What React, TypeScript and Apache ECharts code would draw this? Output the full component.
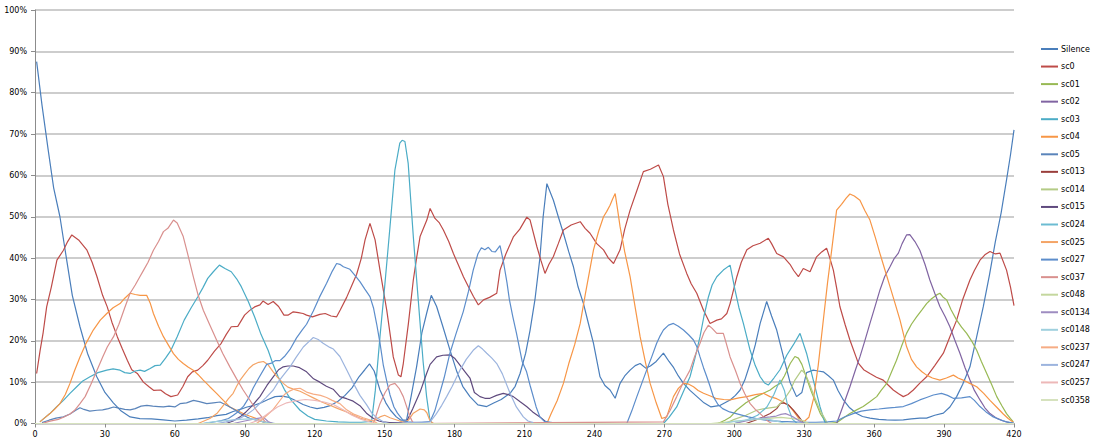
import React, { useEffect, useRef } from "react";
import * as echarts from "echarts";

const xTicks = { min: 0, max: 420, interval: 30 };
const yTicks = { min: 0, max: 100, interval: 10 };

const seriesNames = [
  "Silence", "sc0", "sc01", "sc02", "sc03", "sc04", "sc05", "sc013", "sc014", "sc015",
  "sc024", "sc025", "sc027", "sc037", "sc048", "sc0134", "sc0148", "sc0237", "sc0247", "sc0257", "sc0358",
];

const seriesColors = [
  "#4A7EBB", "#BE4B48", "#98B954", "#8064A2", "#4BACC6", "#F79646", "#5A84BA", "#9A3E3B", "#B4CB86", "#5F4A7E",
  "#6CBCD2", "#F4A466", "#5C8DCB", "#D9908E", "#C4D79E", "#9E8CC0", "#9FD0DE", "#F6AC84", "#9CB4DE", "#EDB8B8", "#D6E2BE",
];

const silence = [[0.7,87.5],[3,77],[5.7,66],[8,57],[10.7,50],[13.6,39.5],[16,31],[19.3,23.4],[22.5,17],[26.5,11.3],[30,7.5],[33.6,5],[37,3],[40.8,1.6],[45,1.2],[50,1.1],[55,0.9],[60,0.6],[65,0.8],[70,1.1],[74,1.4],[78,1.9],[82,2.2],[85,2.9],[88,3.4],[91,4],[94,4.4],[97,5],[100,5.8],[103,6.5],[106,6.6],[109,6.3],[112,5.5],[115,4.6],[118,4],[121,3.6],[124,3.9],[127,4.4],[130,5.4],[133,6.8],[136,8.6],[139,11.3],[141.5,13],[143.5,14.4],[145.5,12.7],[148,8.1],[150.5,5],[152.5,3.2],[155,1.6],[157,0.8],[159.4,0.8],[161.5,7],[163.7,13.7],[166,22],[168,26.6],[170,31],[172.3,28.3],[175,23.4],[178,17.8],[181,12.5],[183.5,9],[186.6,6.5],[190,4.5],[193.8,4.1],[197,5],[200,5.8],[203.8,7.3],[206,9],[208.1,12.1],[210.5,17],[212.4,22.6],[214.5,30],[216.6,40],[218,50],[219.6,58],[222.4,54],[224.5,50],[226.7,46],[229,41.5],[231,37.9],[233,33],[235.3,29],[237.5,24],[239.6,19.4],[242.4,11.3],[244.5,9.2],[246.7,8.1],[248.9,6.1],[251,9.7],[253,11.5],[255.3,12.9],[257.5,14],[259.6,14.5],[262,13.4],[264,13.9],[266.5,15],[269.6,17],[272,15],[274,13.5],[276,11.5],[278.2,9.7],[281,8],[284,6.5],[287,5],[290,4],[294,4.4],[298.2,5.7],[300.5,6.8],[302.5,8.1],[304.5,10.5],[306.8,14.5],[309,19],[311.1,24.2],[313.9,29.5],[316,26],[318.2,22.6],[321.1,16.1],[323.9,10],[326.7,6.5],[329,7.5],[331,12.3],[333.9,12.9],[336,12.7],[338.2,12.5],[340.5,11.5],[342.5,10.5],[344.5,8],[346.8,5.7],[349.5,3.8],[352.5,2.4],[355,1.7],[358.2,1.3],[362,1],[365.3,0.9],[369,0.8],[372.5,0.9],[376,1.1],[379.6,1.3],[382.5,1.3],[386,2],[389.7,2.5],[392.5,4],[395.4,6.5],[398,9.5],[401.1,13.7],[404,21],[406.8,28.2],[409.5,36],[412,44],[414.5,51],[416.8,58.9],[418.5,65],[420,71]];

const sc0 = [[0.7,12.1],[2.2,17.7],[3.5,22],[5,28.2],[7,33],[9.4,39.5],[12.2,41.9],[14,44],[15.8,45.6],[18.7,44.4],[22.3,41.9],[24.5,39],[26.6,35.5],[29,31],[31,28.2],[33,24.5],[35.3,21],[37.5,18],[39.6,15.3],[41.5,13],[43.9,12.1],[46.5,10],[48.9,8.9],[51,8],[53.9,8.1],[56,7.2],[58.3,6.5],[61.2,6.9],[63.5,9],[65.5,11.3],[67.5,12.5],[69.8,12.9],[72,14],[74.1,15.3],[77,17.5],[79.9,19.4],[82,21.5],[84.2,23.4],[87,23.5],[89.9,26.2],[92,27.3],[94.2,28.2],[96.5,28.7],[97.8,29.6],[100,28.8],[102.2,29.5],[104.5,28.3],[106.8,26.2],[108.5,26.2],[110.8,27],[113,26.8],[115,26.6],[116.5,26.2],[119,25.8],[122.2,26.4],[124.5,26.6],[127,26],[129.4,25.8],[131,27.5],[133.7,30.5],[136,33.5],[138,36.1],[140,40],[141.6,44.4],[143.7,48.4],[145.9,44.4],[148,37.1],[150.9,27.4],[152.5,21],[153.7,16.1],[155.9,11.7],[157,11.3],[158,14.5],[160.2,24.2],[162.3,34.7],[163.7,40],[165.2,45.2],[168.1,49.2],[169.5,52],[171.6,49.6],[173.5,48.5],[175.2,46.8],[177.5,44],[179.5,41.1],[181.5,38.5],[183.8,35.5],[186,33],[188.1,30.7],[190.2,28.7],[192.4,29.9],[195,30.5],[198.1,31.5],[199.5,37.1],[202,41],[205.3,45.2],[208,47],[211,49.9],[212.4,49.2],[215.3,42.8],[217,39.5],[218.8,36.3],[220.5,38.5],[222.4,40.4],[224.5,43.5],[226.7,46.8],[230,48],[233.9,48.8],[236,47.2],[238.1,46],[241,43.5],[243.9,42],[246,40],[248.2,38.7],[251,42],[253,47],[255.3,51.6],[258,56],[261,60.9],[264,61.5],[267.5,62.5],[269.6,59.7],[271.5,53],[273.9,46.8],[276.5,41],[279.6,36.3],[281.5,33.8],[283.9,31.5],[286.8,27.4],[289.6,24.2],[292.5,25],[294.5,25.3],[296.8,26.6],[298.2,29],[301.1,35.5],[303,39],[305.4,42],[308,43],[311.1,43.6],[314.6,44.8],[316,43.5],[318.2,41.1],[321.1,40.3],[323.9,38.5],[325.5,37],[327.5,35.5],[329.6,37.5],[332.5,36.7],[335.3,40.3],[337.5,41.5],[339.6,42.4],[341,40],[342.5,37.1],[344,32.5],[345.3,28.3],[347.5,24],[349.6,20.2],[353.2,14.6],[355.5,13],[358.2,12.1],[361,11.2],[363.9,10.5],[366,9.3],[368.2,8.1],[370.5,7.2],[372.5,6.5],[374.5,7],[376.8,8.1],[379.5,9.7],[382.5,11.3],[386,14],[389.7,17],[392.5,21],[395.4,25],[398,30],[401.1,34.7],[403,37],[405.4,39.5],[407.5,40.8],[409.7,41.6],[412,41],[414,41.2],[416.8,37.1],[418.5,33],[420,28.5]];

const sc01 = [[293,0],[296,0.8],[298.2,1.5],[301,3.2],[305,5],[309.6,6.5],[312.5,7.3],[315.4,8.1],[317.5,9],[319.7,9.7],[321.5,11.5],[324,14.5],[326,16.2],[327.5,15.8],[329,14.3],[331,11],[333,7.8],[335,5],[337,2.3],[339.6,0],[343.9,0.2],[346.5,1.2],[349.6,2.4],[352.5,3.3],[355.3,4.1],[358,5.2],[361.1,6.5],[363,8],[365.4,9.7],[367.5,12.5],[369.6,15.3],[371.7,18.6],[373.9,21.8],[376,24],[378.2,25.8],[380.5,27.5],[382.5,29],[384.5,30.1],[386.8,31.1],[388.2,31.5],[389.5,30.6],[391.1,29.9],[393,27.5],[395.4,25],[397.5,23.3],[399.7,21.8],[402,19.8],[404,17.7],[406,15],[408.3,12.1],[410.5,9.3],[412.6,6.5],[414.8,4.3],[416.8,2.4],[418.5,1.2],[419.7,0.4]];

const sc02 = [[343.9,0],[346.5,4],[349.6,8.9],[352,13],[353.9,16.1],[356,20],[358.2,24.2],[360.5,28.5],[362.5,32.3],[364.5,35.5],[366.8,37.9],[368.5,39.8],[370.4,41.2],[372,43.5],[373.9,45.6],[375.3,45.7],[377.5,44],[379.6,41.9],[381.8,38.5],[383.9,34.7],[386,31.5],[388.2,28.3],[390.5,25.8],[392.5,23.4],[394.5,20.3],[396.8,17],[399,13.5],[401.1,10.5],[403,8],[405.4,5.7],[407.5,3.8],[409.7,2.4],[412.5,1.3],[415.4,0.6],[418,0.2],[420,0]];

const sc03 = [[2.1,0.4],[4,1.3],[6.4,2.4],[9,3.9],[12.2,5.6],[15,7.3],[17.9,8.9],[20.5,10.3],[23.6,11.3],[27,12.3],[30.8,12.9],[33.5,13.2],[36.5,12.9],[38.5,12.3],[40.8,12.1],[43,12.7],[45.1,12.9],[47,12.6],[49.4,13.3],[51.5,14],[53.7,14.1],[56,15.8],[58.3,17.7],[61,21],[64,25],[67,28],[69.8,30.6],[72,32.8],[74.1,35.1],[76.5,36.7],[79.1,38.3],[81.5,37.5],[84.2,36.7],[86.5,35],[88.5,33.1],[91.5,29.5],[94.2,25.8],[97,21.5],[100,17.7],[102,14.5],[104.3,11.3],[107,8.2],[110,5.6],[113.7,3.2],[117,1.8],[120,1],[125,0.6],[130,0.4],[135,0.3],[140,0.3],[144.4,0.5],[146,8],[148,21],[150,33],[152.3,47.6],[154.4,61.3],[156.5,67.8],[157.5,68.5],[158.7,68.2],[160.1,62.9],[161.2,54],[162.3,45.2],[163.7,35],[165.1,25],[166.5,15],[168,6.5],[169.4,0.9],[170.5,0],[220,0],[269.6,0],[272,1.5],[275.3,4],[278,7.5],[281,11.3],[283,15.5],[285.3,21],[287,26],[288.9,30.6],[290.5,33.5],[292.5,35.5],[295.3,37.1],[298.2,38.3],[300.3,32.3],[302,28],[303.9,24.2],[306.8,17.7],[309,14],[311.1,11.3],[313,9.8],[314.6,9.3],[317,11],[319.6,13],[322.5,16.5],[325.3,19],[328.2,21.8],[331,17],[333.9,10.5],[336.8,4],[338.9,0.2]];

const sc04 = [[2.1,0.4],[4,1.3],[6.4,2.4],[8.5,3.5],[10.7,4.8],[13,7],[15,9.7],[17,12.8],[19.3,16.1],[22,19.5],[25,22.6],[28,25],[30.8,26.6],[33.5,28],[36.5,29],[38.5,30.3],[40.8,31.5],[43,31.2],[45.1,31],[47.9,31],[49.5,29],[50.8,26.6],[53,23.5],[55.1,21],[57.3,18.9],[59.4,16.9],[61.5,15.5],[63.6,14.5],[65.8,13.6],[67.9,12.9],[70,11.8],[72.2,10.5],[75,8.9],[77.9,7.3],[80.8,5.6],[83.6,4],[86.5,3.2],[89.3,2.4],[92,1.8],[95,1.2],[97.9,0.4],[99,0],[219.6,0],[221.5,2.5],[224,5.5],[226.7,9.7],[229,14.5],[231.5,19],[233.9,24.2],[236,31],[237.8,36.5],[239.6,42],[241.8,46.5],[243.9,50],[245.3,51.3],[246.7,52.8],[247.8,54.3],[248.9,55.6],[250,51.5],[251,47.6],[253,41.5],[255.3,35.5],[257.5,28],[259.6,21],[261.8,15],[263.9,9.7],[266.5,5],[268.9,1.2],[271,1.6],[273.9,6.5],[276,8.5],[278.2,9.7],[280.5,9.5],[282.5,8.9],[284.5,8],[286.8,7.3],[290,6.6],[292.5,6],[295.5,5.8],[298.2,5.7],[302,6.2],[305.4,6.5],[309,7],[312.5,7.3],[315.3,6.5],[318.2,6],[321,5.2],[323.9,4.1],[326,2.5],[328.2,0.8],[330,0.5],[332,1.5],[334,6],[336,14],[338,24],[340,34],[341.8,42],[343.9,51.6],[346,53],[348,54.5],[349.6,55.5],[351.5,55],[353.9,54],[356,51.5],[358.2,49.2],[360.5,45],[362.5,41.1],[364.7,37],[366.8,33.1],[369,29],[371.1,25],[373.9,18.6],[376,15.5],[378.2,13.7],[380.5,12.5],[382.5,11.7],[385,11],[388.2,10.5],[391,11],[394,11.7],[396,11],[398.2,10.5],[401,9.7],[404,8.9],[407,7.3],[409.7,5.6],[412.5,4],[415.4,2.3],[417.5,1.2],[419.7,0.3]];

const sc05 = [[3,0.2],[6,0.8],[9,1.3],[12.2,1.6],[15,2.3],[17.5,3.2],[19.3,3.8],[21,3.4],[23.5,3],[26.6,3.2],[29,3.3],[31.5,3.6],[33.7,4],[36,3.7],[38.5,3.4],[40.8,3.3],[43,3.6],[45.5,4.2],[48,4.4],[50.5,4.2],[53,4.1],[55.1,4],[57.5,4.2],[60,4],[62.2,4.8],[65,5],[68,5.6],[70.5,5.3],[73.7,4.8],[76.5,5],[79.4,5.2],[81.5,4.6],[83.6,4],[86,3.2],[88,2.4],[90,1.8],[92.3,1.2],[95,0.8],[98,0.4],[100,0.2],[103,0]];

const sc013 = [[305,0],[309,0.8],[312,1.5],[315.4,2.4],[318.2,3.6],[319.7,4.8],[321,5],[323,4.6],[325.3,3.3],[327.5,1.8],[329.6,0.2]];

const sc014 = [[296,0],[300,1],[305,2],[309.6,3.2],[313,3.6],[318.2,4],[321,5.5],[324,8],[326,10.5],[328.9,12.9],[330.5,12],[332,10],[334,7],[336.5,3.5],[339,1],[340,0]];

const sc015 = [[82,0],[85,0.6],[88,1.6],[90.5,2.8],[93,4.2],[96.5,6.5],[99.5,9.2],[102.2,11.3],[104.5,13],[106.5,13.7],[108.5,13.9],[110.8,13.9],[113.5,13.5],[116.5,12.5],[119.5,10.8],[122.2,10],[125,9],[127.9,8.3],[130.8,6.5],[133.7,6],[136.5,5.4],[139.4,4.3],[142.2,2.5],[145.2,1.2],[147.5,0.6],[149.4,0.4],[152,0.2],[156,0.2],[159.4,0.4],[162,3.5],[165.2,7.6],[168,12.1],[169.5,14.3],[172.3,16.1],[175,16.5],[178,16.6],[180,15.8],[182.3,14.1],[184.5,12.5],[186.6,11],[188.5,7.5],[190.9,6.5],[193,6.1],[195.2,6.1],[198,6.8],[200.9,7.3],[203,7],[205.2,6.5],[208,5.3],[210.9,4.1],[213.5,2.8],[216.6,1.6],[219,0.5],[221,0]];

const sc024 = [[300,0],[305,0.8],[310,2],[314,4],[317,7],[319.6,10.5],[321.5,8],[323,4],[325,1],[327,0]];

const sc025 = [[70,0],[72,0.5],[75,1.2],[78,2.4],[81,4.5],[83,6],[85,7.3],[86.5,9],[88,10.5],[90,12],[91.8,13.3],[93.6,14.2],[96,14.8],[98,15],[100,14.2],[102.2,12.5],[104,11.2],[106.5,9.7],[108.5,8.8],[110.8,8.3],[113.7,7.8],[116.5,7],[119.4,6.2],[123,5.2],[126.5,4.4],[130,3.6],[133.7,2.8],[137,1.9],[139.4,1.3],[142,0.9],[145.2,0.6],[148,1.6],[150,2],[152.3,1.4],[156.5,0.6],[158,0.3],[160.2,0.8],[162.3,2.5],[165.2,3.5],[167,3.3],[168.1,2.6],[169.5,0.6],[171,0]];

const sc027 = [[72,0],[76,0.3],[80,0.7],[83,1.2],[85.1,2],[87,2.8],[89.5,4.2],[91.5,6],[93.6,8.6],[96,11],[99.4,14.3],[101.5,14.6],[103,15.2],[105.1,15.2],[107,16.2],[109.4,17.9],[112.2,20.7],[114.5,22.5],[116.5,24],[119.4,27.2],[122,30.5],[125.1,33.9],[127.5,36.8],[129.4,38.7],[130.8,38.5],[132.3,37.9],[135.1,37.3],[137,36],[139.4,34.3],[141.5,32.5],[143.7,30.7],[145.2,28],[146.6,24],[148,19.5],[149.4,14.2],[151,10],[152.3,6.9],[154,4],[155.5,2.5],[158,0.7],[160,0.4],[163,0.3],[166,0.3],[169.5,0.5],[171.5,3],[173,6],[175.5,11],[178,17],[180.5,21.5],[183.7,27],[186,32],[188,37.1],[190,41],[191.5,42.5],[193,42],[194.5,42.6],[196,41.6],[197.5,41.5],[199.5,43],[201,39],[202.5,34],[203.5,30],[205,25.8],[206.5,22],[209,15],[210.9,12.5],[212.5,9],[215,4],[216.6,1.6],[218.5,0.5],[222,0.2],[250,0],[253.9,0],[256,3],[258.2,6.5],[260.5,10],[262.4,12.9],[264.5,16],[266.7,19.4],[268,21],[269.6,22.6],[271.8,23.8],[273.9,24.2],[276,23.5],[278.2,22.6],[280.5,21.4],[282.5,20.2],[284,18.5],[285.3,16.1],[286.8,13.5],[288.2,11.3],[289.6,9],[291,6.5],[293,4.6],[295,3.6],[298,2.8],[302,2.2],[306,1.6],[310,1.1],[315,0.7],[320,0.5],[325,0.4],[330,0.3],[335,0.3],[340,0.4],[343.9,0.6],[347,1.5],[351,2.4],[354.5,3],[358.2,3.3],[362,3.5],[365.4,3.7],[369,3.9],[372.5,4.1],[376,4.8],[379.6,5.7],[382.5,6.3],[385.4,6.9],[388.9,7.3],[391.5,6.8],[393.9,6.1],[397.5,6.2],[401.1,6.5],[403,5.6],[405.4,4.1],[408,2.8],[411.1,1.6],[414,0.9],[416.8,0.4],[420,0.1]];

const sc037 = [[3,0],[6,0.5],[10,1],[12.2,1.5],[15,2.3],[17,3.2],[19.3,4.8],[21.5,6.5],[24,9.5],[26.6,12.9],[29,16],[31,18.5],[33.7,21],[36,24],[38.5,28],[40.8,31.5],[43,33.5],[44.5,35],[46.6,37.1],[48.5,39],[50.8,41.9],[53,44],[55.1,46.4],[57,47.2],[59.4,49.2],[61,48.5],[63.6,45.2],[65.5,41],[67.9,35.5],[70,31],[72.2,27.4],[75,23.8],[77.9,20.2],[80.5,17],[83.6,13.7],[86.5,10.8],[89.3,8.1],[92,5.8],[95,3.2],[97,1.8],[98.7,0.4],[100,0],[145.2,0],[148,4.8],[150.2,7.5],[152.3,9.3],[154.4,9.7],[156.2,8.5],[158,6.5],[160.9,1.6],[162.3,0],[269.6,0.4],[272.5,3.2],[275.3,6.5],[278,9.8],[281,12.9],[283,16.2],[285.3,19.4],[287,22],[288.9,23.8],[290.5,23],[292.5,21.8],[295.3,21.8],[296.5,19.5],[298.2,16.1],[300.5,12.8],[302.5,9.7],[304.5,7.2],[306.8,4.8],[309,3.4],[311.1,2.4],[313.9,0.8],[316,0]];

const sc048 = [[290,0],[300,0.5],[310,1],[320,1.5],[328,1],[332,0]];

const sc0134 = [[85,0],[90,0.6],[95,1.2],[98,1.5],[100,0.5],[102,0],[300,0],[305,0.6],[310,1.2],[315.4,1.6],[318,1.8],[320,2.2],[322,2.4],[325,1.7],[328,0.6],[330,0]];

const sc0148 = [[72,0],[76,0.4],[80,0.6],[84,0.8],[88,1],[92,1.1],[95,0.9],[98,0.4],[101,0],[295,0],[300,0.5],[305,0.8],[310,1.2],[315,1],[320,0.3],[323,0]];

const sc0237 = [[95,0],[97,0.8],[99.5,2],[102.2,3.4],[105,5.5],[107,7],[109.4,7.9],[111.5,8.4],[113.7,8.5],[116.5,7.6],[119.4,7.1],[122.5,6.8],[125.1,6.3],[127.5,5.6],[130.8,4.8],[133.7,3.3],[137,2.2],[140.8,1.4],[145.2,0.6],[147,0]];

const sc0247 = [[78,0],[82,0.4],[85.1,0.8],[88,1.3],[90.8,2.1],[93.6,3.3],[96,4.6],[99,6.2],[102.2,8.1],[104.5,10.2],[107,12],[109.4,13.7],[112,16],[115.1,18.5],[117.5,19.8],[119.4,20.8],[121.5,20.3],[123.6,19.4],[126.5,18.4],[128,18],[130.8,16.2],[133.7,13],[136.6,9.7],[139.4,6.8],[142.3,4.5],[144.5,2.5],[146.6,1.4],[149.4,0.4],[152,0],[169.5,0.4],[172,2.2],[174.5,4.4],[176.6,6.5],[179,9],[182.3,12.9],[185,15.5],[188,17.7],[190.2,18.8],[192,18],[193.8,17],[196,15.8],[198.1,14.5],[200.5,12],[203.8,7.3],[206.5,4],[209.5,1.6],[211.5,0.6],[213.8,0.2]];

const sc0257 = [[92,0],[96,0.8],[100,2.4],[104,4],[108,5],[112,5.5],[116,5.8],[120,5.6],[124,5.2],[128,4.6],[132,3.4],[136,2],[140,1],[144,0.3],[146,0]];

const sc0358 = [[0,0],[105,0],[210,0],[315,0],[420,0]];

const seriesData = [
  silence, sc0, sc01, sc02, sc03, sc04, sc05, sc013, sc014, sc015,
  sc024, sc025, sc027, sc037, sc048, sc0134, sc0148, sc0237, sc0247, sc0257, sc0358,
];

const FONT = "DejaVu Sans";

export default function App() {
  const ref = useRef<HTMLDivElement>(null);
  useEffect(() => {
    if (!ref.current) return;
    const chart = echarts.init(ref.current, undefined, { renderer: "svg" });
    chart.setOption({
      animation: false,
      backgroundColor: "#ffffff",
      grid: { left: 35, right: 80, top: 10, bottom: 20.5, containLabel: false },
      legend: {
        orient: "vertical",
        left: 1036,
        top: 38,
        icon: "rect",
        itemWidth: 17,
        itemHeight: 2,
        itemGap: 5.55,
        selectedMode: false,
        data: seriesNames,
        textStyle: { fontFamily: FONT, fontSize: 8, color: "#000", lineHeight: 12, padding: [0, 0, 0, -2] },
      },
      xAxis: {
        type: "value",
        min: xTicks.min,
        max: xTicks.max,
        interval: xTicks.interval,
        axisLine: { show: true, lineStyle: { color: "#8C8C8C", width: 1 } },
        axisTick: { show: true, length: 4, lineStyle: { color: "#8C8C8C" } },
        axisLabel: { fontFamily: FONT, fontSize: 8, color: "#000", margin: 7 },
        splitLine: { show: false },
      },
      yAxis: {
        type: "value",
        min: yTicks.min,
        max: yTicks.max,
        interval: yTicks.interval,
        axisLine: { show: true, lineStyle: { color: "#8C8C8C", width: 1 } },
        axisTick: { show: true, length: 4, lineStyle: { color: "#8C8C8C" } },
        axisLabel: { fontFamily: FONT, fontSize: 8, color: "#000", margin: 8, formatter: "{value}%" },
        splitLine: { show: true, lineStyle: { color: "#BDBDBD", width: 1.5 } },
      },
      series: seriesNames.map((name, i) => ({
        name,
        type: "line",
        data: seriesData[i],
        showSymbol: false,
        symbol: "none",
        color: seriesColors[i],
        lineStyle: { color: seriesColors[i], width: 1.2 },
        emphasis: { disabled: true },
        z: 2,
      })),
    });
    return () => chart.dispose();
  }, []);
  return (
    <div
      ref={ref}
      style={{ position: "fixed", left: 0, top: 0, width: 1094, height: 444, background: "#fff" }}
    />
  );
}
